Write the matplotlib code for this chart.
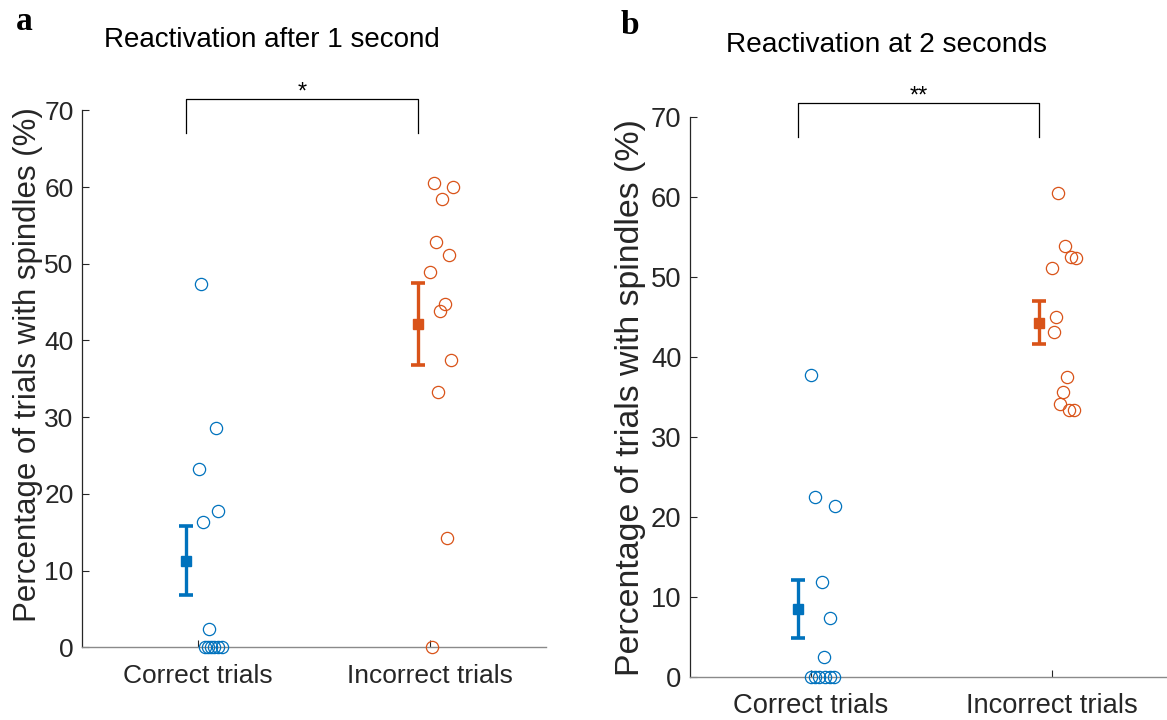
import matplotlib
matplotlib.use("Agg")
import matplotlib.pyplot as plt
import numpy as np

plt.rcParams['font.family'] = ['Liberation Sans', 'DejaVu Sans']

# ---------------- data ----------------
categories = ["Correct trials", "Incorrect trials"]

# Panel a: reactivation after 1 second
a_correct = [47.4, 28.6, 23.2, 17.8, 16.3, 2.4, 0, 0, 0, 0, 0, 0]
a_correct_jitter = [0.012, 0.076, 0.003, 0.085, 0.020, 0.047, 0.030, 0.043, 0.056, 0.069, 0.086, 0.103]
a_incorrect = [60.5, 60.0, 58.4, 52.8, 51.1, 48.9, 44.8, 43.9, 37.5, 33.3, 14.3, 0]
a_incorrect_jitter = [0.017, 0.099, 0.053, 0.026, 0.081, 0.0, 0.063, 0.044, 0.089, 0.036, 0.072, 0.007]
a_means = [11.3, 42.15]
a_sems = [4.5, 5.35]
a_sig = "*"

# Panel b: reactivation at 2 seconds
b_correct = [37.8, 22.5, 21.4, 11.9, 7.4, 2.5, 0, 0, 0, 0, 0, 0]
b_correct_jitter = [0.001, 0.020, 0.102, 0.046, 0.082, 0.056, 0.001, 0.018, 0.036, 0.060, 0.081, 0.097]
b_incorrect = [60.5, 53.9, 52.5, 52.4, 51.1, 45.0, 43.2, 37.5, 35.7, 34.2, 33.35, 33.35]
b_incorrect_jitter = [0.028, 0.056, 0.082, 0.103, 0.001, 0.019, 0.010, 0.064, 0.046, 0.037, 0.073, 0.092]
b_means = [8.54, 44.34]
b_sems = [3.61, 2.74]
b_sig = "**"

titles = ["Reactivation after 1 second", "Reactivation at 2 seconds"]
ylabel = "Percentage of trials with spindles (%)"
yticks = [0, 10, 20, 30, 40, 50, 60, 70]

colors = ['#0072BD', '#D95319']
text_color = '#262626'

W, H = 1167, 720
fig = plt.figure(figsize=(W / 100, H / 100), dpi=100)


def ax_rect(left, right, top, bottom):
    return [left / W, 1 - bottom / H, (right - left) / W, (bottom - top) / H]


def draw_panel(ax, correct, cj, incorrect, ij, means, sems, sig, bracket_top, bracket_leg,
               star_y, fs, lfs, xpad):
    groups = [(correct, cj), (incorrect, ij)]
    for k, (vals, jit) in enumerate(groups):
        xs = (k + 1) + np.asarray(jit)
        ax.plot(xs, vals, linestyle='none', marker='o', markersize=8.8,
                markerfacecolor='none', markeredgecolor=colors[k], markeredgewidth=0.9,
                clip_on=False, zorder=3)
        ax.errorbar((k + 1) - 0.05, means[k], yerr=sems[k], color=colors[k],
                    elinewidth=2.4, capsize=4.8, capthick=2.6, marker='s',
                    markersize=7, markerfacecolor=colors[k], markeredgecolor=colors[k],
                    clip_on=False, zorder=4)
    ax.set_xlim(0.5, 2.5)
    ax.set_ylim(0, 70)
    ax.set_xticks([1, 2])
    ax.set_xticklabels(categories)
    ax.set_yticks(yticks)
    ax.tick_params(direction='in', length=5, width=0.8, colors=text_color,
                   labelsize=fs, pad=6)
    ax.tick_params(axis='x', pad=xpad)
    for s in ['top', 'right']:
        ax.spines[s].set_visible(False)
    ax.spines['left'].set_color(text_color)
    ax.spines['left'].set_linewidth(0.9)
    ax.spines['bottom'].set_color('#8a8a8a')
    ax.spines['bottom'].set_linewidth(1.0)
    ax.set_ylabel(ylabel, fontsize=lfs, color=text_color)
    # significance bracket
    x0, x1 = 1 - 0.05, 2 - 0.05
    ax.plot([x0, x0, x1, x1], [bracket_leg, bracket_top, bracket_top, bracket_leg],
            color='black', linewidth=0.9, clip_on=False)
    ax.text((x0 + x1) / 2, star_y, sig, ha='center', va='center', fontsize=17,
            color='black', clip_on=False)


ax1 = fig.add_axes(ax_rect(82, 546, 110.3, 647.3))
draw_panel(ax1, a_correct, a_correct_jitter, a_incorrect, a_incorrect_jitter,
           a_means, a_sems, a_sig, 71.5, 67.05, 72.3, 19, 22.5, 12)
ax1.yaxis.set_label_coords(-0.085, 0.527)

ax2 = fig.add_axes(ax_rect(690, 1172, 117.3, 677.3))
draw_panel(ax2, b_correct, b_correct_jitter, b_incorrect, b_incorrect_jitter,
           b_means, b_sems, b_sig, 71.75, 67.6, 72.6, 19.7, 24.4, 11)
ax2.yaxis.set_label_coords(-0.092, 0.5)

fig.text(272 / W, 1 - 40 / H, titles[0], ha='center', va='center', fontsize=20, color='black')
fig.text(887 / W, 1 - 45 / H, titles[1], ha='center', va='center', fontsize=20.2, color='black')

fig.text(24 / W, 1 - 21 / H, 'a', ha='center', va='center', fontsize=24, fontweight='bold',
         family=['Liberation Serif', 'DejaVu Serif'])
fig.text(630 / W, 1 - 25 / H, 'b', ha='center', va='center', fontsize=24, fontweight='bold',
         family=['Liberation Serif', 'DejaVu Serif'])

fig.savefig('out.png', dpi=100)
